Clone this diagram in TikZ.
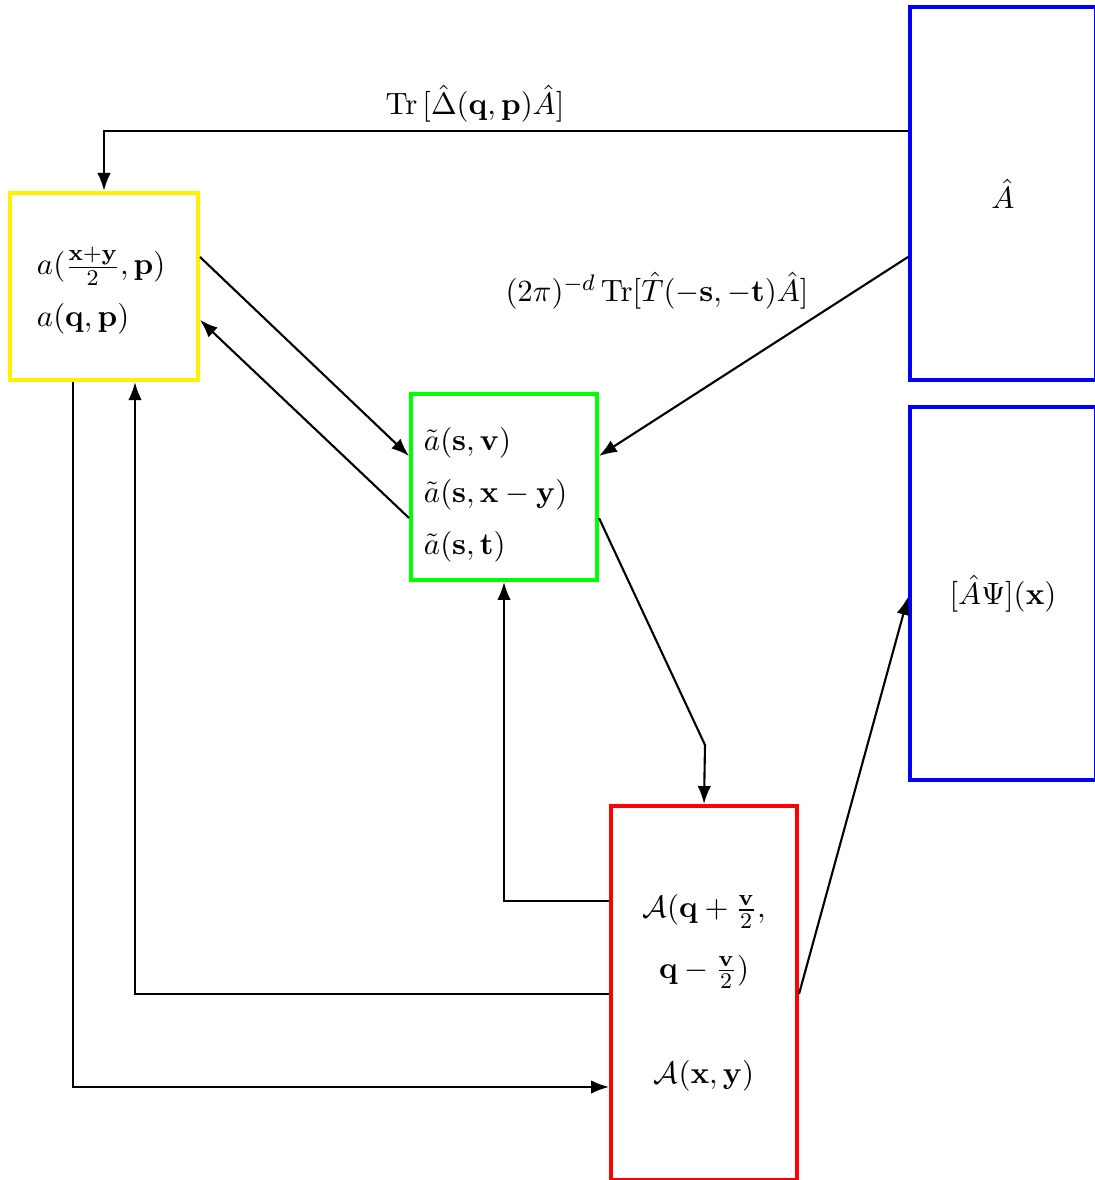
\documentclass[tikz,border=0pt]{standalone}
\usepackage{amsmath,amssymb}
\usepackage{tikz}
\usetikzlibrary{arrows.meta,positioning,calc}

\begin{document}
\begin{tikzpicture}[
    x=0.0125cm,
    y=-0.0125cm,
    >=Latex,
    font=\fontsize{11.25}{13.5}\selectfont,
    box/.style={draw, rectangle, line width=1.4pt, inner sep=0pt},
    conn/.style={->, line width=0.75pt}
]
\useasboundingbox (0,0) rectangle (1094,1180);

% boxes
\node[box, draw=yellow, minimum width=2.35cm, minimum height=2.34cm, text width=1.675cm, align=left] (yel) at (104,286.5)
  {\rule{0pt}{13pt}$a(\frac{\mathbf{x}+\mathbf{y}}{2},\mathbf{p})$\\[5pt] $a(\mathbf{q},\mathbf{p})$};
\node[box, draw=green, minimum width=2.325cm, minimum height=2.325cm, text width=2cm, align=left] (grn) at (504,487)
  {\rule{0pt}{13.5pt}$\tilde a(\mathbf{s},\mathbf{v})$\\[5pt] $\tilde a(\mathbf{s},\mathbf{x}-\mathbf{y})$\\[5pt] $\tilde a(\mathbf{s},\mathbf{t})$};
\node[box, draw=red, minimum width=2.325cm, minimum height=4.675cm, align=center] (red) at (704,993)
  {$\mathcal{A}(\mathbf{q}+\frac{\mathbf{v}}{2},$\\[8pt] $\mathbf{q}-\frac{\mathbf{v}}{2})$\\[24pt] $\mathcal{A}(\mathbf{x},\mathbf{y})$};
\node[box, draw=blue, minimum width=2.325cm, minimum height=4.66cm] (blueA) at (1003,193.5) {$\hat A$};
\node[box, draw=blue, minimum width=2.325cm, minimum height=4.66cm] (blueB) at (1003,593.5) {$[\hat A\Psi](\mathbf{x})$};

% connectors
\draw[conn] (blueA.west |- 0,131) -| (yel.north);
\node (trLab) at (475,104) {$\mathrm{Tr}\,[\hat\Delta(\mathbf{q},\mathbf{p})\hat A]$};
\draw[conn] (blueA.west |- 0,257) -- (grn.east |- 0,456);
\node (ftLab) at (657,291) {$(2\pi)^{-d}\,\mathrm{Tr}[\hat T(-\mathbf{s},-\mathbf{t})\hat A]$};
\draw[conn] (yel.east |- 0,257) -- (grn.west |- 0,456);
\draw[conn] (grn.west |- 0,518) -- (yel.east |- 0,320);
\draw[conn] (grn.east |- 0,518) -- (705,745) -- (red.north);
\draw[conn] (red.west |- 0,901) -| (grn.south);
\draw[conn] (red.west |- 0,994) -| (yel.south -| 135,0);
\draw[conn] (yel.south -| 73,0) |- (red.west |- 0,1087);
\draw[conn] (red.east |- 0,994) -- (blueB.west |- 0,597);
\end{tikzpicture}
\end{document}
